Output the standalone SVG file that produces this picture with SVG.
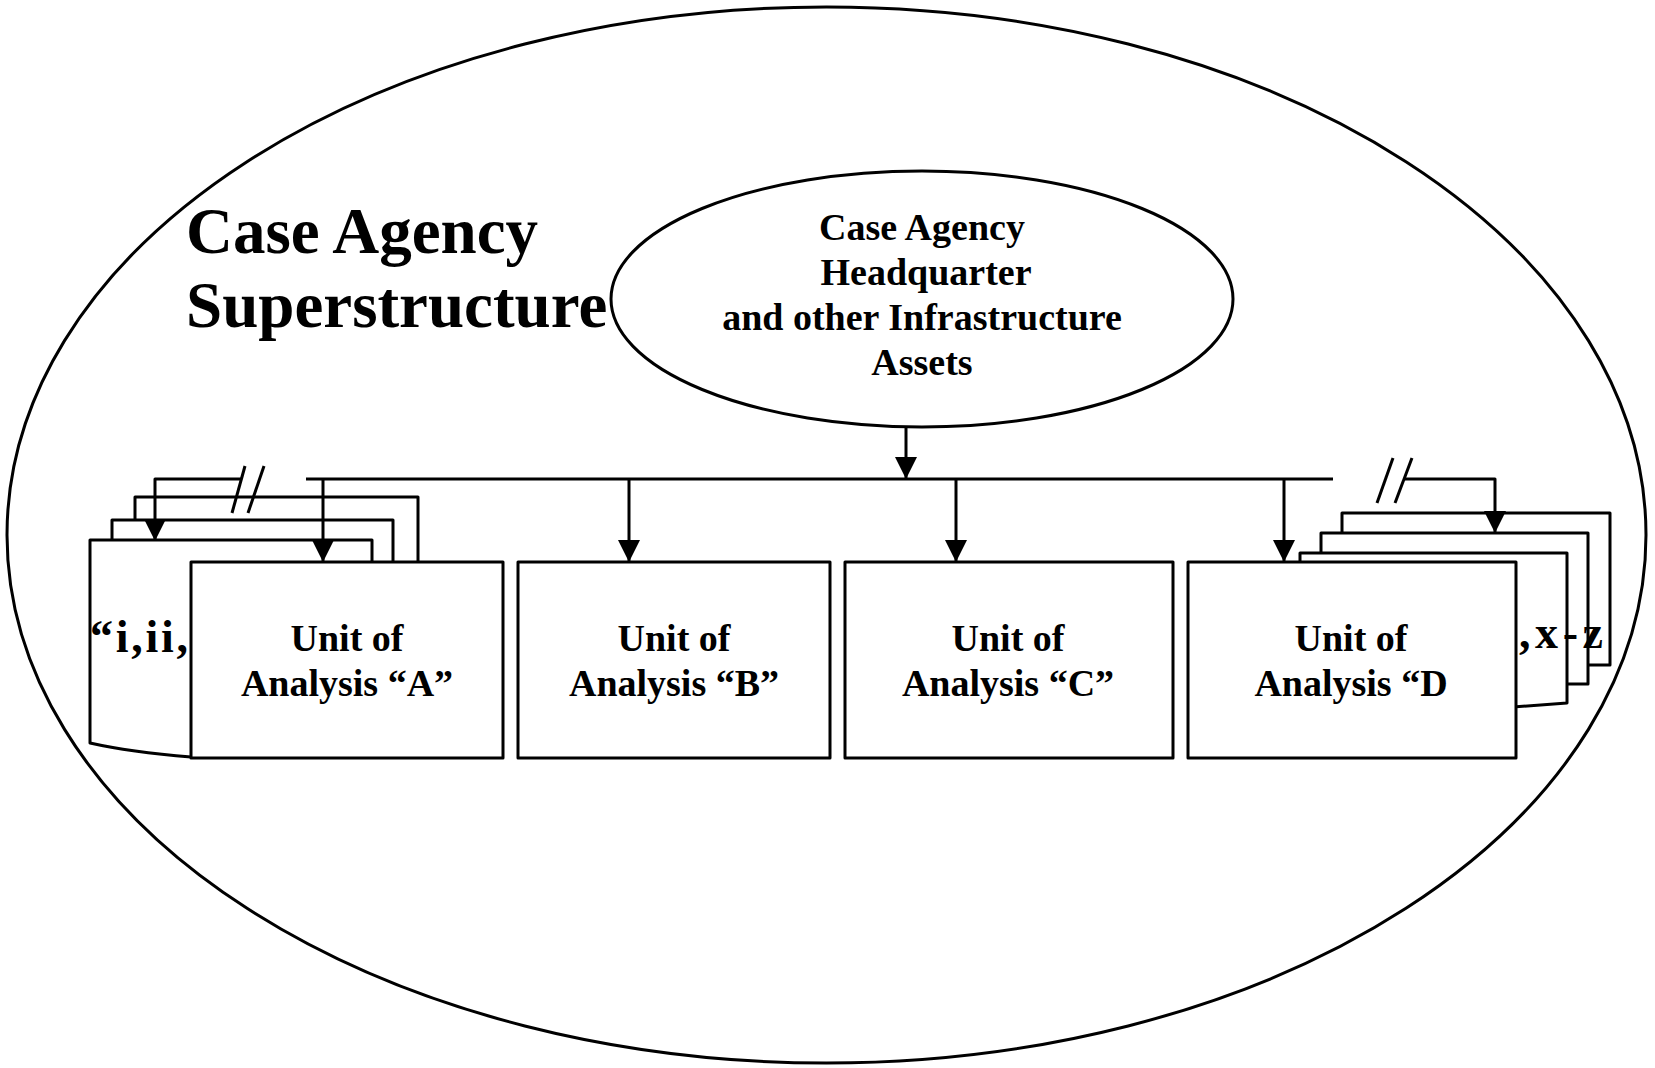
<svg xmlns="http://www.w3.org/2000/svg" width="1655" height="1068" viewBox="0 0 1655 1068">
  <style>
    .line { fill: none; stroke: #000; stroke-width: 3; stroke-linejoin: round; }
    .box { fill: #fff; stroke: #000; stroke-width: 3; stroke-linejoin: round; }
    .oval { fill: #fff; stroke: #000; stroke-width: 3; }
    .txt { font-family: "Liberation Serif", "Times New Roman", serif; font-weight: bold; fill: #000; }
    .label { font-size: 38px; text-anchor: middle; }
    .title { font-size: 65px; }
  </style>
  <defs>
    <marker id="arrow" markerUnits="userSpaceOnUse" markerWidth="22" markerHeight="22" refX="22" refY="11" orient="auto">
      <path d="M0,0 L22,11 L0,22 Z" fill="#000"/>
    </marker>
  </defs>

  <rect width="1655" height="1068" fill="#fff"/>

  <!-- outer boundary -->
  <g id="superstructure">
    <ellipse class="oval" cx="826.5" cy="535" rx="819.5" ry="528"/>
    <text class="txt title" x="186" y="253">Case Agency</text>
    <text class="txt title" x="186" y="327">Superstructure</text>
  </g>

  <!-- headquarters -->
  <g id="headquarter">
    <ellipse class="oval" cx="922" cy="299" rx="311" ry="128" stroke-width="2.5"/>
    <text class="txt label" x="922" y="240">Case Agency</text>
    <text class="txt label" x="926" y="285">Headquarter</text>
    <text class="txt label" x="922" y="330">and other Infrastructure</text>
    <text class="txt label" x="922" y="375">Assets</text>
  </g>

  <!-- stacked units on the left -->
  <g id="stack-left">
    <rect class="box" x="135" y="497" width="283" height="200"/>
    <rect class="box" x="112" y="520" width="281" height="200"/>
    <path class="box" d="M90,540 H372 V757 H191 Q130,752 90,743 Z"/>
    <text class="txt" font-size="46" x="90" y="652" textLength="98" lengthAdjust="spacing">“i,ii,</text>
  </g>

  <!-- stacked units on the right -->
  <g id="stack-right">
    <rect class="box" x="1342" y="513" width="268" height="152"/>
    <rect class="box" x="1321" y="533" width="267" height="151"/>
    <path class="box" d="M1300,553 H1567 V703 L1500,708 H1300 Z"/>
  </g>

  <g id="unit-a">
    <rect class="box" x="191" y="562" width="312" height="196"/>
    <text class="txt label" x="347" y="651">Unit of</text>
    <text class="txt label" x="347" y="696">Analysis “A”</text>
  </g>
  <g id="unit-b">
    <rect class="box" x="518" y="562" width="312" height="196"/>
    <text class="txt label" x="674" y="651">Unit of</text>
    <text class="txt label" x="674" y="696">Analysis “B”</text>
  </g>
  <g id="unit-c">
    <rect class="box" x="845" y="562" width="328" height="196"/>
    <text class="txt label" x="1008" y="651">Unit of</text>
    <text class="txt label" x="1008" y="696">Analysis “C”</text>
  </g>
  <g id="unit-d">
    <rect class="box" x="1188" y="562" width="328" height="196"/>
    <text class="txt label" x="1351" y="651">Unit of</text>
    <text class="txt label" x="1351" y="696">Analysis “D</text>
  </g>

  <!-- links from headquarters to the units -->
  <g id="connectors">
    <line class="line" x1="906" y1="427" x2="906" y2="479" marker-end="url(#arrow)"/>
    <line class="line" x1="306" y1="479" x2="1333" y2="479"/>
    <line class="line" x1="323" y1="479" x2="323" y2="562" marker-end="url(#arrow)"/>
    <line class="line" x1="629" y1="479" x2="629" y2="562" marker-end="url(#arrow)"/>
    <line class="line" x1="956" y1="479" x2="956" y2="562" marker-end="url(#arrow)"/>
    <line class="line" x1="1284" y1="479" x2="1284" y2="562" marker-end="url(#arrow)"/>
    <!-- broken branch to the left stack -->
    <path class="line" d="M241,479 H155 V541" marker-end="url(#arrow)"/>
    <line class="line" x1="232" y1="513" x2="245" y2="466"/>
    <line class="line" x1="248" y1="513" x2="264" y2="466"/>
    <!-- broken branch to the right stack -->
    <path class="line" d="M1404,479 H1495 V533" marker-end="url(#arrow)"/>
    <line class="line" x1="1377" y1="503" x2="1393" y2="458"/>
    <line class="line" x1="1395" y1="503" x2="1412" y2="458"/>
  </g>

  <text class="txt" font-size="46" x="1519" y="648" textLength="84" lengthAdjust="spacing">,x-z</text>
</svg>
